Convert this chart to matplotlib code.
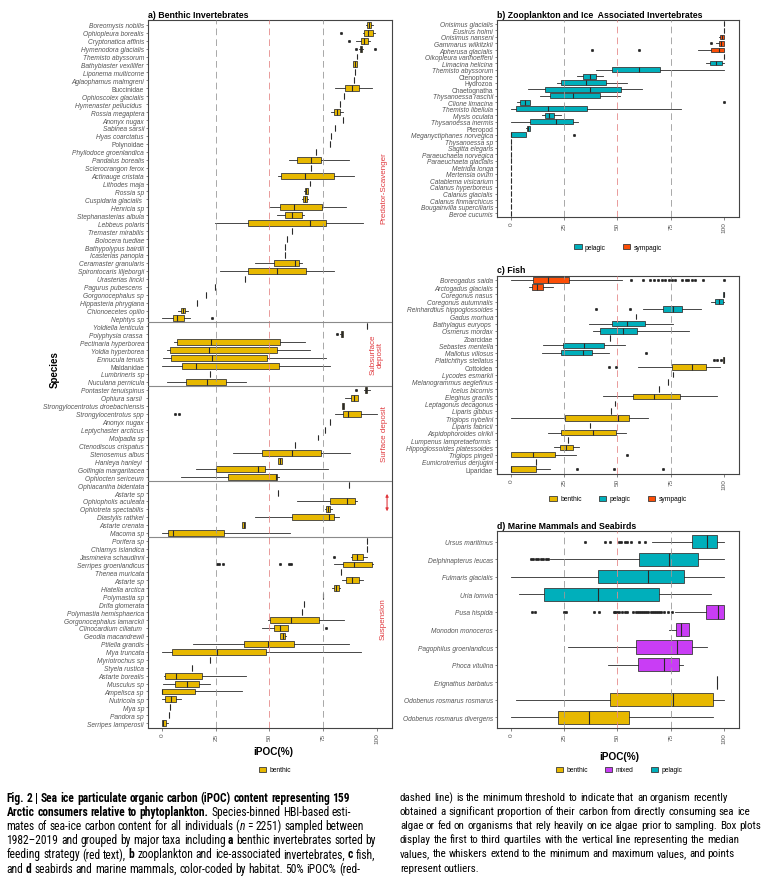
import matplotlib
matplotlib.use("Agg")
import matplotlib.pyplot as plt
from matplotlib.patches import Patch
from matplotlib import font_manager as fm

# ---- data (iPOC %) ----
# rows: (name, lo, q1, median, q3, hi, outliers)  or  (name, single value)
a_rows = [
    ("Boreomysis nobilis", 95.0, 95.5, 96.5, 97.2, 98.0, []),
    ("Ophiopleura borealis", 93.5, 94.1, 96.0, 98.3, 99.0, [83.3]),
    ("Cryptonatica affinis", 90.2, 92.5, 94.1, 95.8, 96.7, [87.0]),
    ("Hymenodora glacialis", 91.8, 92.0, 92.5, 93.0, 93.3, [90.2, 98.9]),
    ("Themisto abyssorum", 90.8),
    ("Bathybiaster vexillifer", 88.8, 89.0, 89.8, 90.5, 90.8, []),
    ("Liponema multicorne", 89.6),
    ("Aglaophamus malmgreni", 89.3),
    ("Buccinidae", 80.4, 85.2, 88.5, 91.7, 97.5, []),
    ("Ophioscolex glacialis", 84.9),
    ("Hymenaster pellucidus ", 82.7),
    ("Rossia megaptera", 78.8, 80.0, 81.5, 82.9, 84.0, []),
    ("Anonyx nugax", 84.0),
    ("Sabinea sarsii", 80.7),
    ("Hyas coarctatus", 78.5),
    ("Polynoidae", 78.0),
    ("Phyllodoce groenlandica", 71.8),
    ("Pandalus borealis", 59.0, 62.8, 69.5, 73.8, 86.8, []),
    ("Sclerocrangon ferox", 69.5),
    ("Actinauge cristata", 54.0, 55.5, 66.7, 80.0, 89.4, []),
    ("Lithodes maja", 68.7),
    ("Rossia sp", 66.2, 66.4, 67.0, 67.8, 68.0, []),
    ("Cuspidaria glacialis ", 65.2, 65.6, 66.5, 67.4, 67.8, []),
    ("Henricia sp", 50.3, 55.0, 61.2, 74.6, 85.8, []),
    ("Stephanasterias albula", 53.6, 57.0, 60.6, 65.3, 66.0, []),
    ("Lebbeus polaris", 24.8, 39.9, 69.0, 76.5, 93.6, []),
    ("Tremaster mirabilis", 60.3),
    ("Bolocera tuediae", 58.1),
    ("Bathypolypus bairdii", 57.3),
    ("Icasterias panopla", 57.0),
    ("Ceramaster granularis", 43.5, 52.3, 62.1, 63.6, 65.3, []),
    ("Spirontocaris liljeborgii", 27.0, 40.2, 53.6, 67.1, 80.0, []),
    ("Urasterias lincki", 38.8),
    ("Pagurus pubescens ", 24.8),
    ("Gorgonocephalus sp", 20.4),
    ("Hippasteria phrygiana", 16.4),
    ("Chionoecetes opilio", 7.5, 8.7, 9.7, 10.7, 12.0, []),
    ("Nephtys sp", 0.0, 5.1, 7.2, 10.4, 13.0, [23.5]),
    ("Yoldiella lenticula", 95.2),
    ("Polyphysia crassa ", 83.0, 83.2, 83.6, 84.2, 84.4, [81.2]),
    ("Pectinaria hyperborea", 5.6, 7.2, 22.9, 55.1, 66.7, []),
    ("Yoldia hyperborea", 2.2, 3.6, 21.8, 53.4, 68.7, []),
    ("Ennucula tenuis", 0.6, 4.0, 23.2, 49.0, 76.5, []),
    ("Maldanidae", 0.0, 9.5, 15.7, 54.4, 78.3, []),
    ("Lumbrineris sp", 22.3),
    ("Nuculana pernicula", 2.2, 11.4, 20.9, 30.0, 39.1, []),
    ("Pontaster tenuispinus", 94.2, 94.4, 95.0, 95.6, 96.7, [90.3]),
    ("Ophiura sarsii ", 85.0, 87.9, 89.5, 91.0, 91.0, []),
    ("Strongylocentrotus droebachiensis", 83.6, 83.8, 84.2, 84.6, 84.8, []),
    ("Strongylocentrotus spp", 80.4, 84.3, 86.6, 92.8, 100.0, [6.0, 7.8]),
    ("Anonyx nugax", 78.0),
    ("Leptychaster arcticus", 75.7),
    ("Molpadia sp", 72.6),
    ("Ctenodiscus crispatus", 61.7),
    ("Stenosemus albus", 33.2, 46.6, 60.4, 74.1, 87.4, []),
    ("Hanleya hanleyi ", 54.0, 54.2, 55.0, 55.8, 56.0, []),
    ("Golfingia margaritacea", 16.0, 25.0, 44.7, 48.1, 77.3, []),
    ("Ophiocten sericeum", 8.7, 30.8, 53.0, 53.6, 54.4, []),
    ("Ophiacantha bidentata", 86.8),
    ("Astarte sp", 54.0),
    ("Ophiopholis aculeata", 62.8, 78.3, 86.3, 89.9, 90.5, []),
    ("Ophiotreta spectabilis", 76.0, 76.5, 77.4, 78.3, 79.0, []),
    ("Diastylis rathkei", 43.5, 60.4, 77.7, 80.0, 82.4, []),
    ("Astarte crenata", 37.2, 37.2, 38.0, 38.8, 38.8, []),
    ("Macoma sp", 0.0, 2.8, 5.3, 28.7, 59.7, []),
    ("Porifera sp", 95.6),
    ("Chlamys islandica", 95.3),
    ("Jasmineira schaudinni", 88.0, 88.2, 90.8, 93.6, 95.2, [79.8]),
    ("Serripes groenlandicus", 79.9, 84.3, 89.4, 97.5, 98.3, [25.5, 26.6, 28.2, 54.7, 58.9, 59.8]),
    ("Thenea muricata", 83.3),
    ("Astarte sp", 83.8, 85.4, 88.5, 91.7, 93.3, []),
    ("Hiatella arctica", 79.3, 79.8, 81.0, 82.4, 83.0, []),
    ("Polymastia sp", 74.9),
    ("Drifa glomerata", 66.2),
    ("Polymastia hemisphaerica", 65.3),
    ("Gorgonocephalus lamarckii", 49.4, 50.3, 59.8, 73.0, 84.7, []),
    ("Clinocardium ciliatum ", 46.4, 52.0, 54.7, 58.6, 58.6, [76.5]),
    ("Geodia macandrewii", 54.8, 55.1, 56.2, 57.3, 57.8, []),
    ("Ptilella grandis", 14.5, 38.0, 49.4, 61.4, 87.1, []),
    ("Mya truncata", 0.2, 4.5, 25.4, 48.4, 92.4, []),
    ("Myriotrochus sp", 22.4),
    ("Styela rustica", 13.9),
    ("Astarte borealis", 0.9, 1.2, 6.4, 18.4, 39.1, []),
    ("Musculus sp", 0.5, 5.9, 11.5, 17.1, 22.4, []),
    ("Ampelisca sp", 0.0, 0.0, 0.0, 15.4, 37.2, []),
    ("Nutricola sp", 0.0, 1.6, 4.0, 6.4, 8.7, []),
    ("Mya sp", 3.6),
    ("Pandora sp", 3.3),
    ("Serripes lamperosii", 0.0, 0.0, 0.5, 1.7, 3.0, []),
]
# feeding strategy groups: (label, number of rows)
a_groups = [("Predator-Scavenger", 38), ("Subsurface\ndeposit", 8),
            ("Surface deposit", 12), ("", 7), ("Suspension", 24)]

# rows: (name, habitat, lo, q1, median, q3, hi, outliers)  or  (name, habitat, value)
b_rows = [
    ("Onisimus glacialis", "sympagic", 100),
    ("Eusirus holmi", "sympagic", 100),
    ("Onisimus nanseni", "sympagic", 97.8, 98.0, 99.0, 100, 100, []),
    ("Gammarus wilkitzkii", "sympagic", 96.0, 97.5, 98.5, 99.8, 100, [93.8]),
    ("Apherusa glacialis", "sympagic", 87.9, 94.0, 97.5, 100, 100, [38.1, 60.3]),
    ("Oikopleura vanhoeffeni", "pelagic", 100),
    ("Limacina helicina", "pelagic", 91.4, 93.6, 96.1, 98.8, 100, []),
    ("Themisto abyssorum", "pelagic", 39.7, 47.4, 60.3, 70.0, 100, []),
    ("Ctenophore", "pelagic", 30.8, 33.7, 37.0, 40.1, 43.1, []),
    ("Hydrozoa", "pelagic", 21.8, 23.3, 35.3, 44.6, 54.7, []),
    ("Chaetognatha", "pelagic", 8.1, 15.9, 36.9, 51.6, 61.4, []),
    ("Thysanoessa raschii", "pelagic", 13.7, 18.4, 29.2, 41.7, 51.0, []),
    ("Clione limacina", "pelagic", 3.1, 4.2, 6.5, 9.0, 9.0, [100]),
    ("Themisto libellula", "pelagic", 0.0, 2.3, 17.6, 35.5, 80.0, []),
    ("Mysis oculata", "pelagic", 14.8, 15.9, 17.9, 20.2, 23.6, []),
    ("Thysanoessa inermis", "pelagic", 0.0, 8.9, 21.0, 29.1, 31.6, []),
    ("Pteropod", "pelagic", 7.2, 7.5, 8.2, 9.0, 9.2, []),
    ("Meganyctiphanes norvegica", "pelagic", 0.0, 0.0, 0.0, 7.3, 7.3, [29.5]),
    ("Thysanoessa sp", "pelagic", 0),
    ("Sagitta elegans", "pelagic", 0),
    ("Paraeuchaeta norvegica", "pelagic", 0),
    ("Paraeuchaeta glacialis", "pelagic", 0),
    ("Metridia longa", "pelagic", 0),
    ("Mertensia ovum", "pelagic", 0),
    ("Catablema visicarium", "pelagic", 0),
    ("Calanus hyperboreus", "pelagic", 0),
    ("Calanus glacialis", "pelagic", 0),
    ("Calanus finmarchicus", "pelagic", 0),
    ("Bougainvilla superciliaris", "pelagic", 0),
    ("Beroe cucumis", "pelagic", 0),
]

c_rows = [
    ("Boreogadus saida", "sympagic", 0.0, 10.4, 17.6, 27.2, 52.1,
     [56.3, 61.9, 65.3, 66.9, 69.2, 70.8, 72.3, 74.2, 75.4, 77.0, 80.1, 82.1, 83.2, 84.8, 86.3, 90.2, 100]),
    ("Arctogadus glacialis", "sympagic", 8.6, 9.8, 12.4, 15.1, 19.8, []),
    ("Coregonus nasus", "pelagic", 99.3, 99.5, 99.8, 100, 100, []),
    ("Coregonus autumnalis", "pelagic", 93.8, 95.6, 97.5, 99.5, 100, []),
    ("Reinhardtius hippoglossoides", "pelagic", 62.2, 71.5, 75.9, 80.4, 89.4, [39.7, 55.7]),
    ("Gadus morhua", "pelagic", 58.6),
    ("Bathylagus euryops ", "pelagic", 36.5, 47.4, 54.7, 62.7, 76.2, []),
    ("Osmerus mordax", "pelagic", 38.4, 41.7, 52.6, 59.1, 83.7, []),
    ("Zoarcidae", "pelagic", 46.7),
    ("Sebastes mentella", "pelagic", 15.1, 24.4, 34.2, 43.9, 53.3, []),
    ("Mallotus villosus", "pelagic", 14.8, 23.3, 33.7, 38.1, 45.9, [63.3]),
    ("Platichthys stellatus", "benthic", 99.5, 99.6, 99.8, 100, 100, [95.3, 96.9, 98.4]),
    ("Cottoidea", "benthic", 59.4, 75.7, 84.8, 91.3, 98.3, [45.9, 49.3]),
    ("Lycodes esmarkii", "benthic", 76.2),
    ("Melanogrammus aeglefinus", "benthic", 73.9),
    ("Icelus bicornis", "benthic", 69.5),
    ("Eleginus gracilis", "benthic", 43.1, 57.5, 66.9, 79.3, 96.7, []),
    ("Leptagonus decagonus", "benthic", 48.7),
    ("Liparis gibbus", "benthic", 47.1),
    ("Triglops nybelini", "benthic", 0.0, 25.2, 50.2, 55.2, 64.5, []),
    ("Liparis fabricii", "benthic", 37.3),
    ("Aspidophoroides olrikii", "benthic", 17.6, 23.6, 38.6, 49.3, 54.0, []),
    ("Lumpenus lampretaeformis ", "benthic", 26.7),
    ("Hippoglossoides platessoides", "benthic", 20.2, 23.0, 26.0, 29.2, 31.9, []),
    ("Triglops pingeli", "benthic", 0.0, 0.0, 10.4, 20.7, 30.6, [54.4]),
    ("Eumicrotremus derjugini", "benthic", 11.7),
    ("Liparidae", "benthic", 0.0, 0.0, 0.0, 12.0, 18.2, [30.8, 48.2, 71.5]),
]

d_rows = [
    ("Ursus maritimus", "pelagic", 66.4, 84.8, 92.1, 96.9, 100,
     [34.7, 44.3, 46.7, 50.5, 51.8, 53.3, 54.7, 56.5, 59.9, 63.0]),
    ("Delphinapterus leucas", "pelagic", 18.4, 60.2, 74.3, 87.9, 100,
     [9.3, 10.5, 11.7, 12.9, 14.0, 15.2, 16.5, 17.6]),
    ("Fulmaris glacialis", "pelagic", 0.0, 40.9, 64.5, 81.3, 100, []),
    ("Uria lomvia", "pelagic", 3.6, 15.6, 40.7, 69.5, 94.1, []),
    ("Pusa hispida", "mixed", 77.1, 91.3, 97.2, 100, 100,
     [10.1, 11.4, 24.9, 26.0, 39.2, 41.5, 48.2, 49.0, 49.8, 50.9, 52.1, 53.3, 54.4,
      57.5, 58.5, 59.5, 60.5, 61.5, 62.5, 63.5, 64.5, 65.5, 66.5, 67.5, 68.5, 69.5,
      70.5, 72.0, 73.5, 75.5]),
    ("Monodon monoceros", "mixed", 74.2, 77.4, 79.6, 83.7, 83.7, []),
    ("Pagophilus groenlandicus", "mixed", 26.7, 58.8, 77.8, 84.8, 91.8, []),
    ("Phoca vitulina", "mixed", 45.6, 59.4, 72.0, 79.0, 80.9, []),
    ("Erignathus barbatus", "benthic", 96.9),
    ("Odobenus rosmarus rosmarus", "benthic", 2.3, 46.3, 76.2, 94.9, 100, []),
    ("Odobenus rosmarus divergens", "benthic", 0.0, 22.1, 36.5, 55.5, 94.9, []),
]

upright = {"Buccinidae", "Polynoidae", "Maldanidae", "Ctenophore", "Hydrozoa",
           "Chaetognatha", "Pteropod", "Zoarcidae", "Cottoidea", "Liparidae"}

palette = {"benthic": "#E7B800", "pelagic": "#00AFBB",
           "sympagic": "#FC4E07", "mixed": "#C93DF5"}
ticks = [0, 25, 50, 75, 100]
red_txt = "#E0393E"

plt.rcParams["font.family"] = ["Liberation Sans", "DejaVu Sans"]

W, H = 775, 879
fig = plt.figure(figsize=(W / 100, H / 100), dpi=100)


def fx(px):
    return px / W


def fy(py):
    return 1 - py / H


def make_ax(l, t, r, b):
    return fig.add_axes([fx(l), fy(b), (r - l) / W, (b - t) / H])


def draw_panel(ax, names, values, habitats):
    stats = []
    for v in values:
        if len(v) == 1:
            v = (v[0], v[0], v[0], v[0], v[0], [])
        stats.append(dict(whislo=v[0], q1=v[1], med=v[2], q3=v[3], whishi=v[4], fliers=v[5]))
    n = len(names)
    art = ax.bxp(stats, positions=range(n), widths=0.75, orientation="horizontal",
                 patch_artist=True, showcaps=False,
                 boxprops=dict(edgecolor="#3a3a3a", linewidth=0.6),
                 medianprops=dict(color="#2a2a2a", linewidth=0.8),
                 whiskerprops=dict(color="#2a2a2a", linewidth=0.6),
                 flierprops=dict(marker="o", markersize=1.9, markerfacecolor="#222222",
                                 markeredgecolor="#222222", markeredgewidth=0.3,
                                 linestyle="none"))
    for patch, h in zip(art["boxes"], habitats):
        patch.set_facecolor(palette[h])
    for v, c in ((25, "#9a9a9a"), (50, "#E58A8A"), (75, "#9a9a9a")):
        ax.axvline(v, color=c, lw=0.6, ls=(0, (8, 5)), zorder=4)
    ax.set_xlim(-6.5, 107)
    ax.set_ylim(n - 0.4, -0.6)
    ax.set_yticks(range(n))
    ax.set_yticklabels(names)
    for lab, name in zip(ax.get_yticklabels(), names):
        lab.set_style("normal" if name.strip() in upright else "italic")
    ax.set_xticks(ticks)
    ax.set_xticklabels([str(t) for t in ticks], rotation=90)
    ax.tick_params(axis="y", labelsize=4.8, labelcolor="#555555", length=1.8,
                   width=0.5, color="#555555", pad=1)
    ax.tick_params(axis="x", labelsize=4.6, labelcolor="#555555", length=1.8,
                   width=0.5, color="#555555", pad=1.5)
    for s in ax.spines.values():
        s.set_color("#444444")
        s.set_linewidth(0.8)


def title(ax, text):
    ax.set_title(text, loc="left", fontsize=6.3, fontweight="bold", pad=2.5)


def legend(labels, cx, cy):
    handles = [Patch(facecolor=palette[l], edgecolor="#3a3a3a", linewidth=0.6) for l in labels]
    fig.legend(handles, labels, loc="center", bbox_to_anchor=(fx(cx), fy(cy)),
               ncol=len(labels), frameon=False, fontsize=4.8, handlelength=1.1,
               handleheight=0.8, handletextpad=0.5, columnspacing=2.6)


# ---- a) benthic invertebrates ----
axa = make_ax(148, 21, 392, 729)
draw_panel(axa, [r[0] for r in a_rows], [r[1:] for r in a_rows], ["benthic"] * len(a_rows))
title(axa, "a) Benthic Invertebrates")
start = 0
label_x = [103.3, 99.8, 103.7, 104.7, 102.8]
label_shift = [1.9, 0, 0, -0.8, -1.7]
for (lab, size), lx, sh in zip(a_groups, label_x, label_shift):
    mid = start + (size - 1) / 2 + sh
    if lab:
        axa.text(lx, mid, lab, rotation=90, ha="center", va="center", fontsize=5.8,
                 color=red_txt, multialignment="center", linespacing=1.0)
    else:
        axa.annotate("", xy=(lx, mid - 1.1), xytext=(lx, mid + 1.1),
                     arrowprops=dict(arrowstyle="<|-|>", color=red_txt, lw=0.8,
                                     mutation_scale=4, shrinkA=0, shrinkB=0))
    start += size
    if start < len(a_rows):
        axa.axhline(start - 0.5, color="#8a8a8a", lw=0.8, zorder=5)
fig.text(fx(55), fy(370), "Species", rotation=90, ha="center", va="center",
         fontsize=7, fontweight="bold")
fig.text(fx(273), fy(752), "iPOC(%)", ha="center", va="center", fontsize=7.2,
         fontweight="bold")
legend(["benthic"], 275, 771)

# ---- b) zooplankton ----
axb = make_ax(497, 21, 739, 218)
draw_panel(axb, [r[0] for r in b_rows], [r[2:] for r in b_rows], [r[1] for r in b_rows])
title(axb, "b) Zooplankton and Ice  Associated Invertebrates")
legend(["pelagic", "sympagic"], 618, 248)

# ---- c) fish ----
axc = make_ax(497, 276.5, 739, 474.5)
draw_panel(axc, [r[0] for r in c_rows], [r[2:] for r in c_rows], [r[1] for r in c_rows])
title(axc, "c) Fish")
legend(["benthic", "pelagic", "sympagic"], 618, 500)

# ---- d) mammals and seabirds ----
axd = make_ax(497, 532, 739, 729)
draw_panel(axd, [r[0] for r in d_rows], [r[2:] for r in d_rows], [r[1] for r in d_rows])
title(axd, "d) Marine Mammals and Seabirds")
fig.text(fx(619), fy(757), "iPOC(%)", ha="center", va="center", fontsize=7.2,
         fontweight="bold")
legend(["benthic", "mixed", "pelagic"], 619, 771)


# ---- caption ----
def pick_font(names):
    for nm in names:
        try:
            fm.findfont(fm.FontProperties(family=nm), fallback_to_default=False)
            return nm
        except ValueError:
            continue
    return "DejaVu Sans"


cap_font = pick_font(["Liberation Sans Narrow", "Roboto Condensed", "Liberation Sans"])
renderer = fig.canvas.get_renderer()

B, R, I = ("bold", "normal"), ("normal", "normal"), ("normal", "italic")
left_lines = [
    [("Fig. 2 | Sea ice particulate organic carbon (iPOC) content representing 159", B)],
    [("Arctic consumers relative to phytoplankton.", B), (" Species-binned HBI-based esti-", R)],
    [("mates of sea-ice carbon content for all individuals (", R), ("n", I),
     (" = 2251) sampled between", R)],
    [("1982\u20132019 and grouped by major taxa including ", R), ("a", B),
     (" benthic invertebrates sorted by", R)],
    [("feeding strategy (red text), ", R), ("b", B),
     (" zooplankton and ice-associated invertebrates, ", R), ("c", B), (" fish,", R)],
    [("and ", R), ("d", B), (" seabirds and marine mammals, color-coded by habitat. 50% iPOC% (red-", R)],
]
right_lines = [
    [("dashed line) is the minimum threshold to indicate that an organism recently", R)],
    [("obtained a significant proportion of their carbon from directly consuming sea ice", R)],
    [("algae or fed on organisms that rely heavily on ice algae prior to sampling. Box plots", R)],
    [("display the first to third quartiles with the vertical line representing the median", R)],
    [("values, the whiskers extend to the minimum and maximum values, and points", R)],
    [("represent outliers.", R)],
]


def tokens_of(runs):
    toks = []
    pending = False
    for text, (wt, st) in runs:
        parts = text.split(" ")
        for i, p in enumerate(parts):
            if p:
                toks.append([p, wt, st, bool(toks) and (i > 0 or pending)])
                pending = False
        pending = text.endswith(" ")
    return toks


def measure(s, size, wt="normal", st="normal"):
    t = fig.text(0, 0, s, fontsize=size, fontweight=wt, fontstyle=st, family=cap_font)
    w = t.get_window_extent(renderer=renderer).width
    t.remove()
    return w


def natural_width(runs, size):
    toks = tokens_of(runs)
    sp = measure("a a", size) - measure("aa", size)
    return sum(measure(t[0], size, t[1], t[2]) for t in toks) + sp * sum(t[3] for t in toks)


def draw_line(x0, y, runs, size):
    sp = measure("a a", size) - measure("aa", size)
    x = x0
    for p, wt, st, gap in tokens_of(runs):
        if gap:
            x += sp
        t = fig.text(fx(x), fy(y), p, fontsize=size, fontweight=wt, fontstyle=st,
                     family=cap_font, va="center_baseline", ha="left")
        x += t.get_window_extent(renderer=renderer).width


left_size = 8.0 * 372 / natural_width(left_lines[3], 8.0)
right_size = min(left_size, 8.0 * 363 / natural_width(right_lines[2], 8.0))
ys = [796.7, 810.9, 825.1, 839.3, 853.5, 867.7]
for runs, y in zip(left_lines, ys):
    draw_line(6.5, y, runs, left_size)
for runs, y in zip(right_lines, ys):
    draw_line(400, y, runs, right_size)

fig.savefig("out.png", dpi=100)
